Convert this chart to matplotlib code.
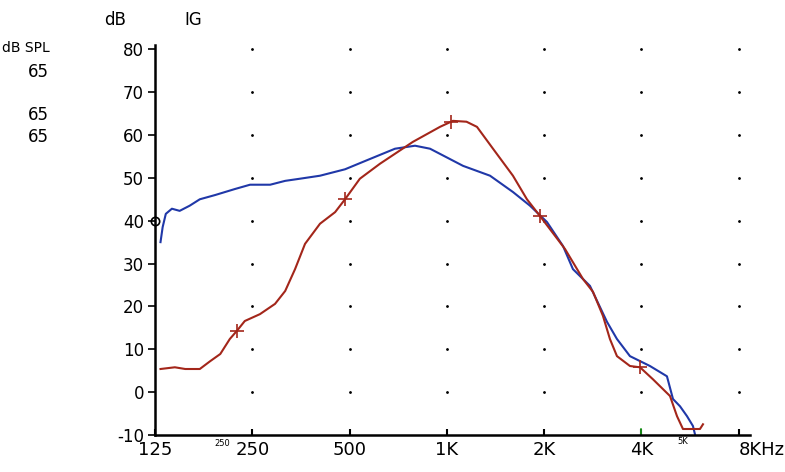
import matplotlib.pyplot as plt
import numpy as np

# frequency ticks (Hz) and labels
freq_ticks = [125, 250, 500, 1000, 2000, 4000, 8000]
freq_labels = ["125", "250", "500", "1K", "2K", "4K", "8KHz"]
db_ticks = [80, 70, 60, 50, 40, 30, 20, 10, 0, -10]

# blue curve
blue_f = [130, 132, 135, 141, 149, 160, 172, 192, 221, 246, 284, 316, 351, 405, 484,
          578, 691, 797, 887, 986, 1122, 1360, 1601, 1808, 2040, 2287, 2455, 2771,
          3129, 3359, 3685, 4249, 4796, 5007, 5264, 5532, 5772, 5855]
blue_db = [35.0, 38.5, 41.6, 42.8, 42.3, 43.5, 45.0, 46.0, 47.4, 48.4, 48.4, 49.3, 49.8,
           50.5, 52.0, 54.4, 56.8, 57.5, 56.8, 55.0, 52.8, 50.5, 46.7, 43.5, 39.7, 34.1,
           28.7, 24.8, 16.4, 12.4, 8.4, 6.1, 3.7, -1.6, -3.3, -5.6, -7.9, -9.8]

# red curve
red_f = [130, 144, 155, 172, 185, 199, 213, 224, 237, 264, 294, 316, 339, 364, 405, 451,
         484, 538, 621, 785, 952, 1044, 1150, 1239, 1389, 1601, 1769, 1941, 2320, 2637,
         2832, 3040, 3195, 3359, 3685, 3958, 4341, 4901, 5152, 5376, 6068, 6200]
red_db = [5.4, 5.8, 5.4, 5.4, 7.2, 8.9, 12.4, 14.3, 16.6, 18.2, 20.6, 23.6, 28.7, 34.6,
          39.3, 42.0, 45.0, 49.8, 53.3, 58.4, 61.9, 63.3, 63.1, 61.9, 56.8, 50.5, 45.0,
          41.1, 33.4, 26.4, 23.4, 17.8, 12.4, 8.4, 6.1, 5.8, 3.0, -0.9, -5.6, -8.6, -8.6, -7.5]

# cross markers on red curve
mark_f = [224, 484, 1030, 1941, 3958]
mark_db = [14.3, 45.0, 63.0, 41.1, 5.8]

W, H = 785, 472
fig = plt.figure(figsize=(W / 100, H / 100), dpi=100)
ax = fig.add_axes([155 / W, 37 / H, (750 - 155) / W, (435 - 45) / H])

ax.set_xscale("log", base=2)
ax.set_xlim(125, 8667)
ax.set_ylim(-10, 81)

# dotted grid points at tick crossings
gx, gy = np.meshgrid(freq_ticks[1:], db_ticks[:-1])
ax.plot(gx.ravel(), gy.ravel(), ls="none", marker=".", ms=2, color="black")

ax.plot(blue_f, blue_db, color="#2038a8", lw=1.5)
ax.plot(red_f, red_db, color="#a3261a", lw=1.5)
ax.plot(mark_f, mark_db, ls="none", marker="+", ms=10, mew=1.2, color="#a3261a")
ax.plot([125], [40], ls="none", marker="o", ms=6, mfc="none", mec="black", mew=1.2,
        clip_on=False)

ax.set_xticks(freq_ticks)
ax.set_xticklabels(freq_labels, fontsize=13)
ax.xaxis.set_minor_locator(plt.NullLocator())
ax.set_yticks(db_ticks)
ax.set_yticklabels([str(v) for v in db_ticks], fontsize=12)
ax.tick_params(axis="x", direction="in", length=4, width=1.5, pad=4)
ax.tick_params(axis="y", direction="out", length=5, width=1.2, pad=3)
lbl = ax.get_xticklabels()[-1]
lbl.set_horizontalalignment("left")

for side in ["top", "right"]:
    ax.spines[side].set_visible(False)
for side in ["left", "bottom"]:
    ax.spines[side].set_linewidth(1.8)

def ftext(x, y, s, **kw):
    fig.text(x / W, 1 - y / H, s, va="center", **kw)

ftext(115, 20, "dB", fontsize=12, ha="center")
ftext(193, 20, "IG", fontsize=12, ha="center")
ftext(26, 48, "dB SPL", fontsize=10, ha="center")
ftext(38, 72, "65", fontsize=12, ha="center")
ftext(38, 115, "65", fontsize=12, ha="center")
ftext(38, 137, "65", fontsize=12, ha="center")
ftext(222, 443, "250", fontsize=6, ha="center")
ftext(683, 441, "5K", fontsize=6, ha="center")
ax.plot([4000, 4000], [-10, -8.5], color="#20a020", lw=1.2, clip_on=False)

fig.savefig("out.png", dpi=100)
